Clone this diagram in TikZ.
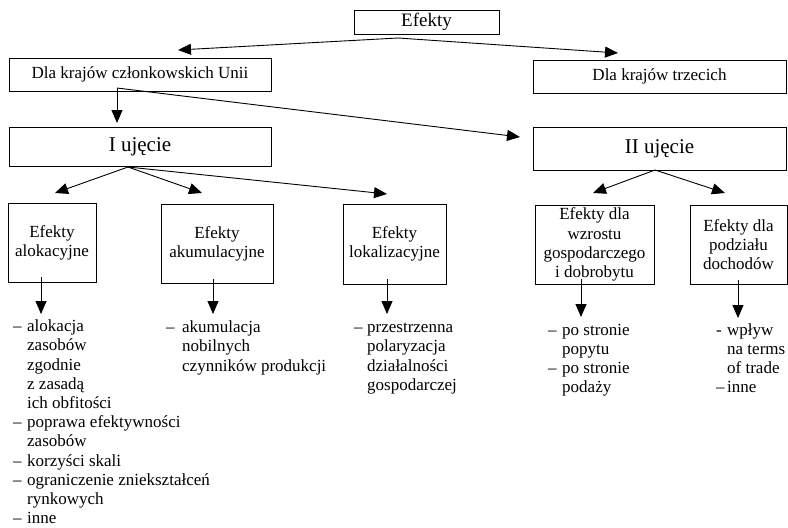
\documentclass[tikz,border=0pt]{standalone}
\usepackage{fontspec}
\setmainfont{Liberation Serif}
\usetikzlibrary{arrows.meta}
\newcommand\fsbody{\fontsize{17}{19.2}\selectfont}
\newcommand\fstop{\fontsize{19}{22}\selectfont}
\newcommand\fsbig{\fontsize{21}{24}\selectfont}
\tikzset{
  box/.style={draw, line width=1pt, inner sep=0pt, align=center, font=\fsbody},
  arr/.style={line width=0.9pt, -{Triangle[length=13pt,width=11pt]}},
  lst/.style={inner sep=0pt, anchor=north west, font=\fsbody},
}
\begin{document}
\begin{tikzpicture}[x=1pt,y=-1pt]
\useasboundingbox (0,0) rectangle (788,528);
% boxes
\node[box, font=\fstop, minimum width=145pt, minimum height=24pt] (efekty) at (426.5,22) {Efekty};
\node[box, minimum width=262pt, minimum height=33pt] (unii) at (140,74.5) {Dla krajów członkowskich Unii};
\node[box, minimum width=253pt, minimum height=33pt] (trzecie) at (659.5,76.5) {Dla krajów trzecich};
\node[box, font=\fsbig, minimum width=262pt, minimum height=39pt] (ujI) at (140,146.5) {I ujęcie};
\node[box, font=\fsbig, minimum width=253pt, minimum height=43pt] (ujII) at (659.5,148.5) {II ujęcie};
\node[box, minimum width=88pt, minimum height=79pt] (alok) at (52,242.5) {Efekty\\alokacyjne};
\node[box, minimum width=112pt, minimum height=79pt] (akum) at (217,243.5) {Efekty\\akumulacyjne};
\node[box, minimum width=103pt, minimum height=80pt] (lokal) at (394.5,244) {Efekty\\lokalizacyjne};
\node[box, minimum width=119pt, minimum height=79pt] (wzrost) at (594.5,244.5) {Efekty dla\\wzrostu\\gospodarczego\\i dobrobytu};
\node[box, minimum width=97pt, minimum height=79pt] (podzial) at (738.5,244.5) {Efekty dla\\podziału\\dochodów};
% connector points
\coordinate (e0) at (398,38);
\coordinate (tUnii) at (178,50);
\coordinate (tTrz) at (618,53);
\coordinate (u0) at (117,88);
\coordinate (tI) at (117,123);
\coordinate (tII) at (520,137);
\coordinate (i0) at (128,167);
\coordinate (tAlok) at (55,193);
\coordinate (tAkum) at (202,193);
\coordinate (tLok) at (387,194);
\coordinate (ii0) at (655,170);
\coordinate (tWzr) at (593,193);
\coordinate (tPod) at (725,193);
\coordinate (a0) at (41,277);
\coordinate (a1) at (41,314);
\coordinate (b0) at (213,279);
\coordinate (b1) at (213,314);
\coordinate (c0) at (387,279);
\coordinate (c1) at (387,314);
\coordinate (d0) at (581,279);
\coordinate (d1) at (581,317);
\coordinate (f0) at (738,280);
\coordinate (f1) at (738,318);
% connectors
\draw[arr] (e0) -- (tUnii);
\draw[arr] (e0) -- (tTrz);
\draw[arr] (u0) -- (tI);
\draw[arr] (u0) -- (tII);
\draw[arr] (i0) -- (tAlok);
\draw[arr] (i0) -- (tAkum);
\draw[arr] (i0) -- (tLok);
\draw[arr] (ii0) -- (tWzr);
\draw[arr] (ii0) -- (tPod);
\draw[arr] (a0) -- (a1);
\draw[arr] (b0) -- (b1);
\draw[arr] (c0) -- (c1);
\draw[arr] (d0) -- (d1);
\draw[arr] (f0) -- (f1);
% lists
\node[lst] (lAlok) at (13,318) {\begin{tabular}{@{}l@{\hspace{5.5pt}}l@{}}
– & alokacja\\ & zasobów\\ & zgodnie\\ & z zasadą\\ & ich obfitości\\
– & poprawa efektywności\\ & zasobów\\ – & korzyści skali\\
– & ograniczenie zniekształceń\\ & rynkowych\\ – & inne\end{tabular}};
\node[lst] (lAkum) at (166,319) {\begin{tabular}{@{}l@{\hspace{7.5pt}}l@{}}
– & akumulacja\\ & nobilnych\\ & czynników produkcji\end{tabular}};
\node[lst] (lLok) at (354,319) {\begin{tabular}{@{}l@{\hspace{4.5pt}}l@{}}
– & przestrzenna\\ & polaryzacja\\ & działalności\\ & gospodarczej\end{tabular}};
\node[lst] (lWzr) at (548,321.5) {\begin{tabular}{@{}l@{\hspace{5.5pt}}l@{}}
– & po stronie\\ & popytu\\ – & po stronie\\ & podaży\end{tabular}};
\node[lst] (lPod) at (716,321.5) {\begin{tabular}{@{}l@{\hspace{2.5pt}}l@{}}
- & wpływ\\ & na terms\\ & of trade\\ – & inne\end{tabular}};
\end{tikzpicture}
\end{document}
